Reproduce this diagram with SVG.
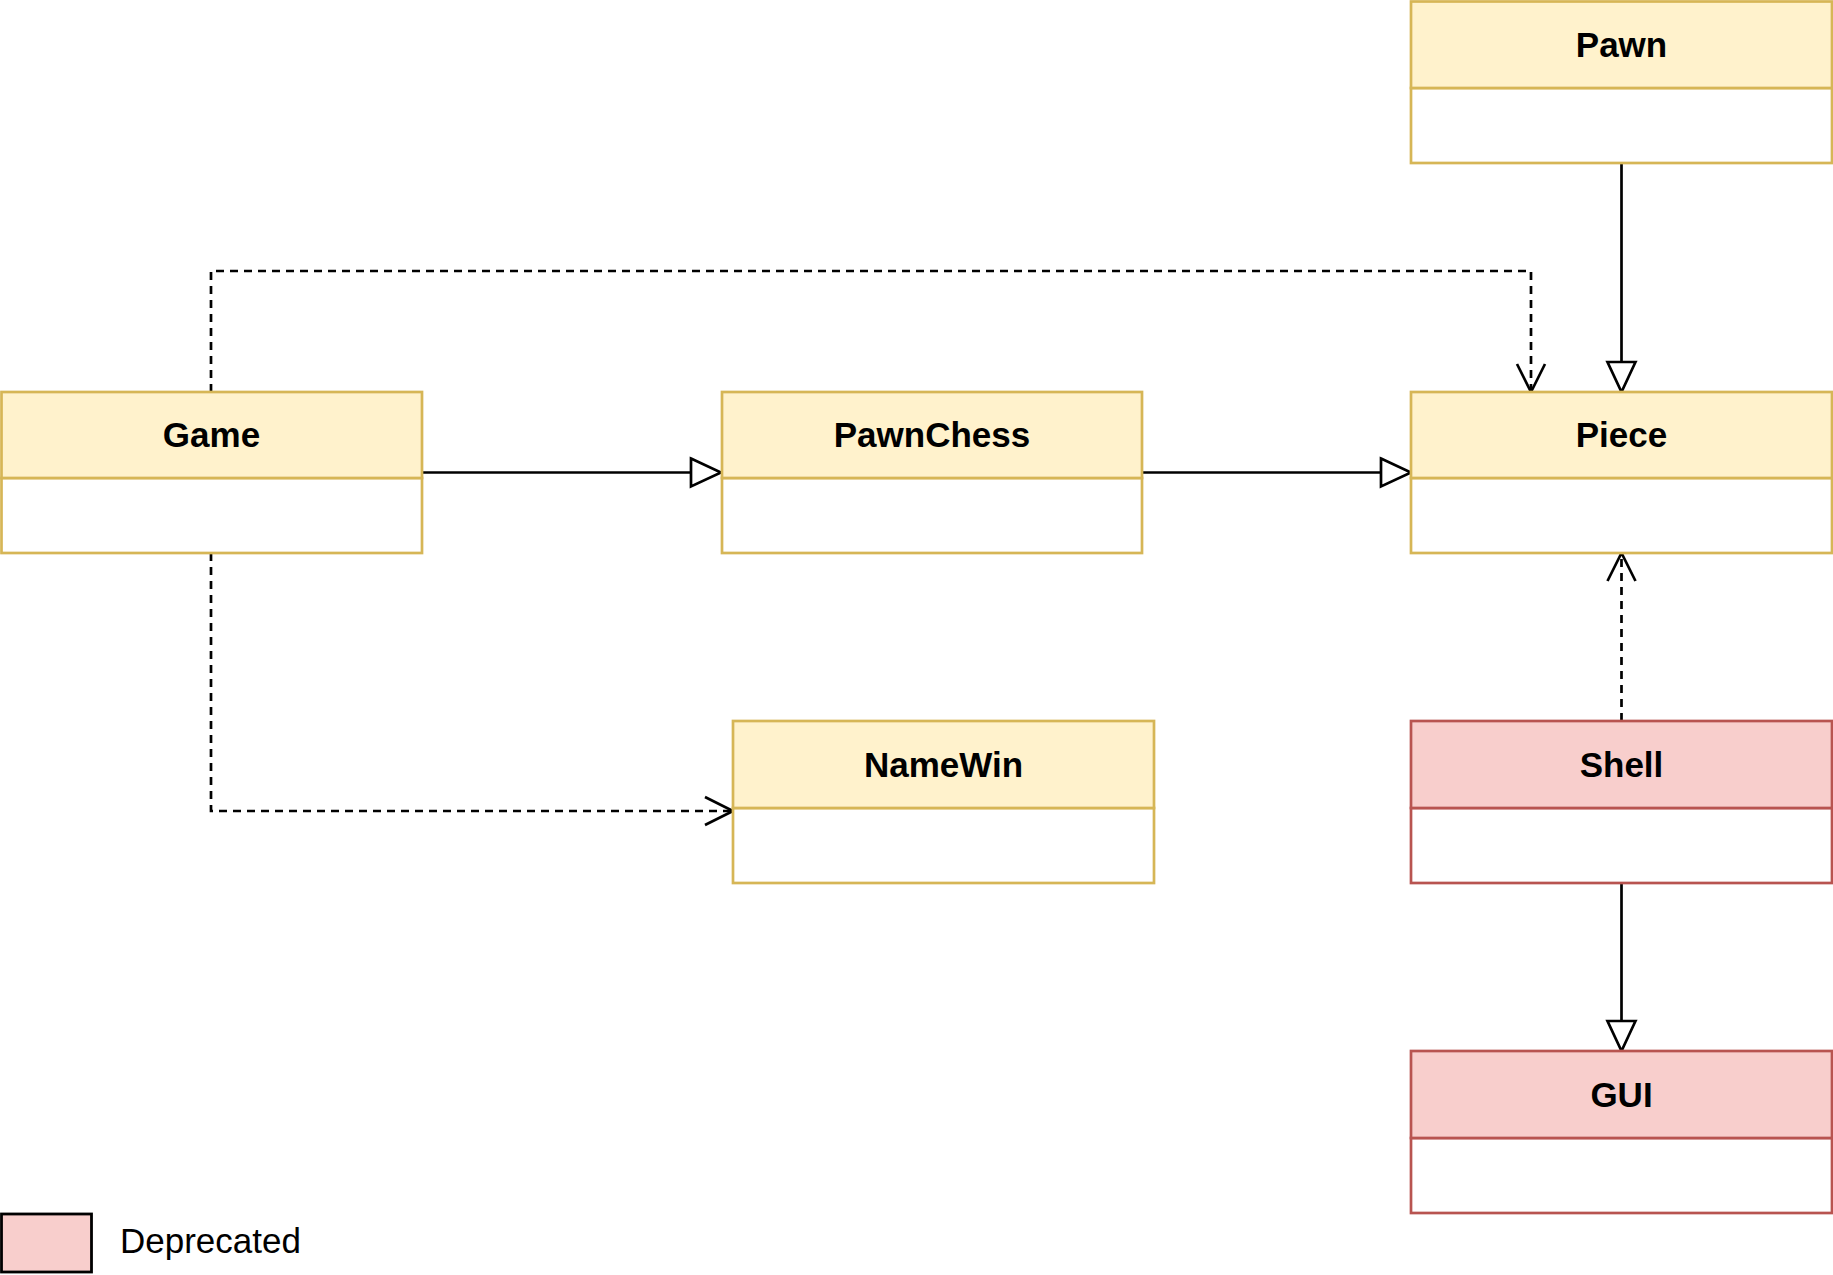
<svg xmlns="http://www.w3.org/2000/svg" width="1833" height="1275" viewBox="0 0 1833 1275">
<style>
.y{fill:#fff2cc;stroke:#d6b656;stroke-width:2.7}
.yb{fill:#ffffff;stroke:#d6b656;stroke-width:2.7}
.r{fill:#f8cecc;stroke:#b85450;stroke-width:2.7}
.rb{fill:#ffffff;stroke:#b85450;stroke-width:2.7}
.t{font-family:"Liberation Sans",Arial,sans-serif;font-size:35px;font-weight:bold;text-anchor:middle;fill:#000}
.solid{fill:none;stroke:#000;stroke-width:2.7}
.dash{fill:none;stroke:#000;stroke-width:2.7;stroke-dasharray:8 6}
</style>
<defs>
<marker id="tri" markerUnits="userSpaceOnUse" markerWidth="34" markerHeight="34" viewBox="-2 -2 34 32" refX="30" refY="14" orient="auto">
<path d="M0,0 L30,14 L0,28 Z" fill="#fff" stroke="#000" stroke-width="2.7" stroke-dasharray="none"/>
</marker>
<marker id="open" markerUnits="userSpaceOnUse" markerWidth="34" markerHeight="34" viewBox="-2 -2 34 32" refX="28" refY="14" orient="auto">
<path d="M0,0 L28,14 L0,28" fill="none" stroke="#000" stroke-width="2.7" stroke-dasharray="none"/>
</marker>
</defs>
<rect width="1833" height="1275" fill="#fff"/>
<g id="connectors">
<path class="dash" d="M211,392 V271 H1531 V392" marker-end="url(#open)"/>
<path class="dash" d="M211,553 V811 H733" marker-end="url(#open)"/>
<path class="dash" d="M1621.5,721 V553" marker-end="url(#open)"/>
<path class="solid" d="M1621.5,163 V392" marker-end="url(#tri)"/>
<path class="solid" d="M422,472.5 H721" marker-end="url(#tri)"/>
<path class="solid" d="M1142,472.5 H1411" marker-end="url(#tri)"/>
<path class="solid" d="M1621.5,883 V1051" marker-end="url(#tri)"/>
</g>
<g id="Pawn">
<rect class="yb" x="1411" y="88" width="421" height="75"/>
<rect class="y" x="1411" y="1.5" width="421" height="86.5"/>
<text class="t" x="1621.5" y="56.5">Pawn</text>
</g>
<g id="Game">
<rect class="yb" x="1.5" y="478" width="420.5" height="75"/>
<rect class="y" x="1.5" y="392" width="420.5" height="86"/>
<text class="t" x="211.5" y="447">Game</text>
</g>
<g id="PawnChess">
<rect class="yb" x="722" y="478" width="420" height="75"/>
<rect class="y" x="722" y="392" width="420" height="86"/>
<text class="t" x="932" y="447">PawnChess</text>
</g>
<g id="Piece">
<rect class="yb" x="1411" y="478" width="421" height="75"/>
<rect class="y" x="1411" y="392" width="421" height="86"/>
<text class="t" x="1621.5" y="447">Piece</text>
</g>
<g id="NameWin">
<rect class="yb" x="733" y="808" width="421" height="75"/>
<rect class="y" x="733" y="721" width="421" height="87"/>
<text class="t" x="943.5" y="776.5">NameWin</text>
</g>
<g id="Shell">
<rect class="rb" x="1411" y="808" width="421" height="75"/>
<rect class="r" x="1411" y="721" width="421" height="87"/>
<text class="t" x="1621.5" y="776.5">Shell</text>
</g>
<g id="GUI">
<rect class="rb" x="1411" y="1138" width="421" height="75"/>
<rect class="r" x="1411" y="1051" width="421" height="87"/>
<text class="t" x="1621.5" y="1106.5">GUI</text>
</g>
<g id="Legend">
<rect x="1.5" y="1214" width="90" height="58" fill="#f8cecc" stroke="#000" stroke-width="2.8"/>
<text x="120" y="1253" font-family="'Liberation Sans',Arial,sans-serif" font-size="35" fill="#000">Deprecated</text>
</g>
</svg>
